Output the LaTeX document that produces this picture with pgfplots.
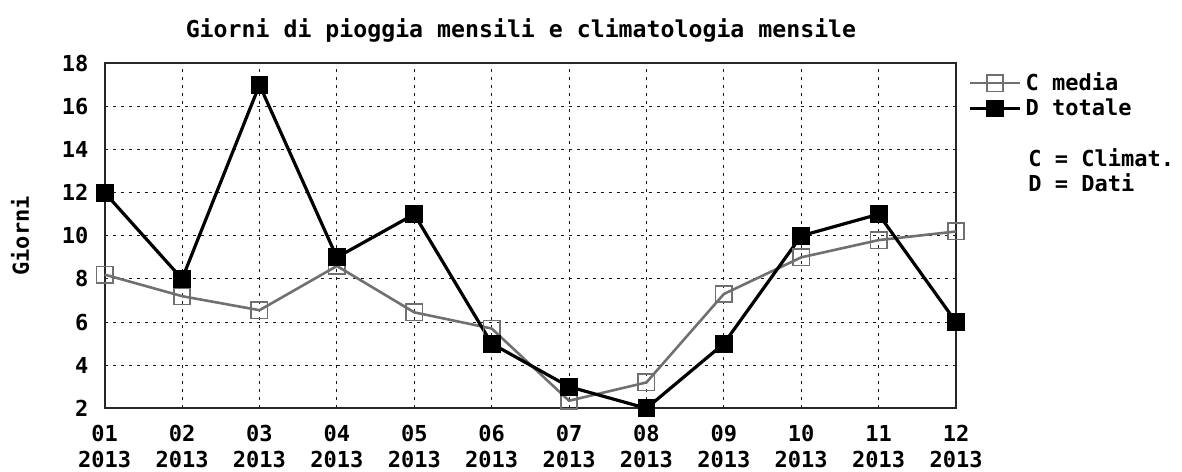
\documentclass[border=0pt]{standalone}
\usepackage{pgfplots}
\pgfplotsset{compat=1.18}
\usepackage{fontspec}
\setmainfont{DejaVu Sans Mono}
\definecolor{cgray}{RGB}{112,112,112}
\begin{document}
\begin{tikzpicture}
\pgfplotsset{every axis/.append style={font=\bfseries\fontsize{11}{13}\selectfont}}
\begin{axis}[
  at={(52.35pt,31.35pt)}, anchor=south west,
  scale only axis, width=425.65pt, height=172.5pt,
  xmin=1, xmax=12, ymin=2, ymax=18,
  xtick={1,...,12},
  xticklabels={\strut01\\2013,\strut02\\2013,\strut03\\2013,\strut04\\2013,\strut05\\2013,\strut06\\2013,\strut07\\2013,\strut08\\2013,\strut09\\2013,\strut10\\2013,\strut11\\2013,\strut12\\2013},
  ytick={2,4,...,18},
  /pgf/number format/assume math mode=true,
  xticklabel style={align=center, inner sep=0pt, yshift=-7pt, font=\bfseries\fontsize{11}{13.3}\selectfont},
  yticklabel style={inner sep=0pt, xshift=-8pt},
  major tick length=0pt,
  grid=major,
  major grid style={black!90, line width=0.5pt, dash pattern=on 1.8pt off 2.2pt},
  axis line style={black!85, line width=1pt},
  ylabel={Giorni},
  ylabel style={at={(axis description cs:-0.089,0.5)}, anchor=base},
  clip=false,
  legend style={at={(axis description cs:1,1)}, anchor=north west, xshift=6pt, yshift=-2.5pt,
    draw=none, fill=none, inner sep=0pt, row sep=-1.5pt, font=\bfseries\fontsize{11}{13}\selectfont},
  legend cell align=left,
  legend image code/.code={\draw[mark repeat=2,mark phase=2,#1] plot coordinates {(0pt,0pt) (12.5pt,0pt) (25pt,0pt)};},
]
\addplot[cgray, line width=1.3pt, mark=square, mark size=4.1pt, mark options={solid, line width=0.8pt, fill=white}]
 coordinates {(1,8.2) (2,7.2) (3,6.55) (4,8.6) (5,6.45) (6,5.7) (7,2.35) (8,3.2) (9,7.3) (10,9.0) (11,9.8) (12,10.2)};
\addlegendentry{C media}
\addplot[black, line width=1.6pt, mark=square*, mark size=4.2pt, mark options={solid, line width=0.5pt}]
 coordinates {(1,12) (2,8) (3,17) (4,9) (5,11) (6,5) (7,3) (8,2) (9,5) (10,10) (11,11) (12,6)};
\addlegendentry{D totale}
\end{axis}
\node[anchor=base, font=\bfseries\fontsize{11.6}{13}\selectfont, inner sep=0pt] at (260.5pt,216.5pt) {Giorni di pioggia mensili e climatologia mensile};
\node[anchor=base west, font=\bfseries\fontsize{11}{13}\selectfont, inner sep=0pt] at (514pt,152pt) {C = Climat.};
\node[anchor=base west, font=\bfseries\fontsize{11}{13}\selectfont, inner sep=0pt] at (514pt,139.5pt) {D = Dati};
\pgfresetboundingbox
\path[use as bounding box] (0,0) rectangle (591pt,235.5pt);
\end{tikzpicture}
\end{document}
